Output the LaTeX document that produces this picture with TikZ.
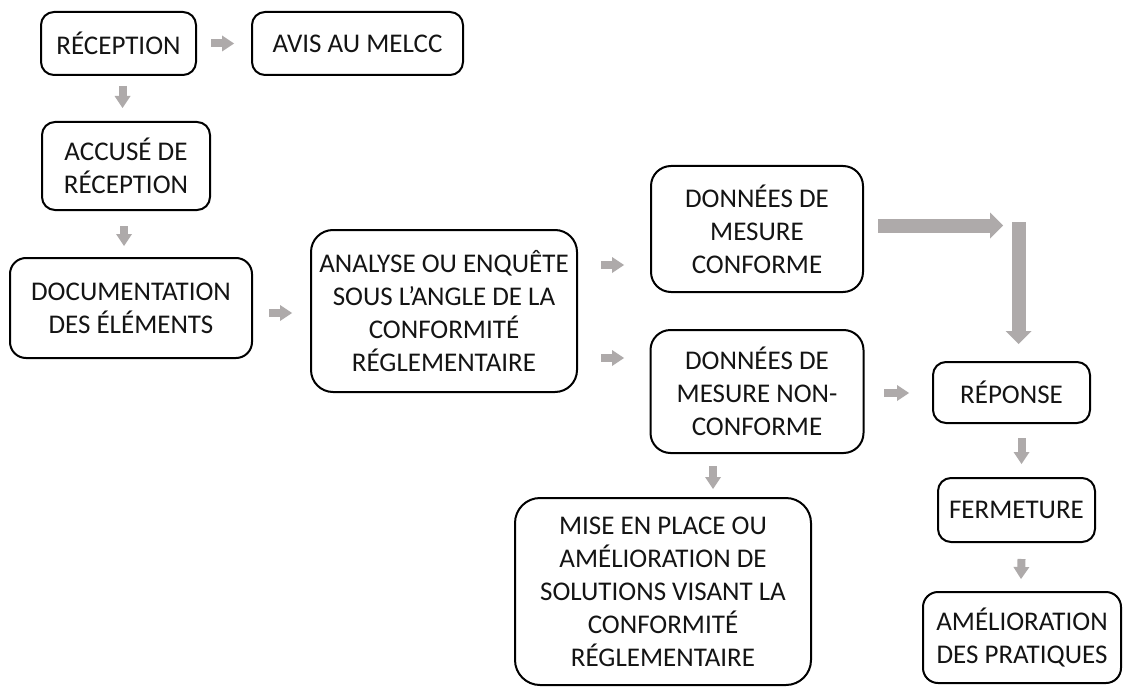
\documentclass[tikz,border=0pt]{standalone}
\usepackage{fontspec}
\setmainfont{Carlito}
\usetikzlibrary{arrows.meta,calc}
\definecolor{agray}{HTML}{AEAAAA}
\definecolor{txt}{HTML}{141414}
\begin{document}
\begin{tikzpicture}[x=1pt,y=-1pt,
  box/.style={draw=black, line width=2pt, fill=white, align=center, inner sep=0pt,
    text=txt, font=\fontsize{27}{33}\selectfont, rounded corners=13pt},
  sarrow/.style={draw=agray, line width=8pt, -{Triangle[length=12pt,width=16pt,line width=0pt]}},
  barrow/.style={draw=agray, line width=14pt, -{Triangle[length=13pt,width=26pt,line width=0pt]}}]
\useasboundingbox[fill=white] (0,0) rectangle (1123,687);

\node[box, minimum width=155pt, minimum height=63pt] (rec) at (118.5,43.5) {RÉCEPTION};
\node[box, minimum width=211pt, minimum height=63pt] (avis) at (357.5,43.5) {AVIS AU MELCC};
\node[box, minimum width=168pt, minimum height=88pt] (acc) at (126,166) {ACCUSÉ DE\\RÉCEPTION};
\node[box, minimum width=242pt, minimum height=100pt, rounded corners=16pt] (doc) at (131,308) {DOCUMENTATION\\DES ÉLÉMENTS};
\node[box, minimum width=266pt, minimum height=162pt, rounded corners=22pt] (ana) at (444,311) {ANALYSE OU ENQUÊTE\\SOUS L’ANGLE DE LA\\CONFORMITÉ\\RÉGLEMENTAIRE};
\node[box, minimum width=212pt, minimum height=126pt, rounded corners=20pt] (dc) at (757,229) {DONNÉES DE\\MESURE\\CONFORME};
\node[box, minimum width=213pt, minimum height=123pt, rounded corners=20pt] (dn) at (757,391.5) {DONNÉES DE\\MESURE NON-\\CONFORME};
\node[box, minimum width=296pt, minimum height=187pt, rounded corners=25pt] (mise) at (663,591.5) {MISE EN PLACE OU\\AMÉLIORATION DE\\SOLUTIONS VISANT LA\\CONFORMITÉ\\RÉGLEMENTAIRE};
\node[box, minimum width=157pt, minimum height=61pt] (rep) at (1011.5,392.5) {RÉPONSE};
\node[box, minimum width=157pt, minimum height=64pt] (fer) at (1016.5,510) {FERMETURE};
\node[box, minimum width=198pt, minimum height=91pt, rounded corners=15pt] (ame) at (1022,637.5) {AMÉLIORATION\\DES PRATIQUES};

\coordinate (hend) at (1003,225.5);
\coordinate (turn) at (1018.5,222);

\draw[sarrow] ($(rec.east)+(14,0)$) -- ($(avis.west)+(-17,0)$);
\draw[sarrow] ($(rec.south)+(4,10)$) -- ($(acc.north)+(-3.5,-13)$);
\draw[sarrow] ($(acc.south)+(-2,15)$) -- ($(doc.north)+(-7,-11)$);
\draw[sarrow] ($(doc.east)+(16,5)$) -- ($(ana.west)+(-18,2)$);
\draw[sarrow] ($(ana.east)+(23,-46)$) -- ($(dc.west)+(-26,36)$);
\draw[sarrow] ($(ana.east)+(23,47)$) -- ($(dn.west)+(-25.5,-33.5)$);
\draw[sarrow] ($(dn.south)+(-44,12)$) -- ($(mise.north)+(50,-8)$);
\draw[barrow] ($(dc.east)+(14,-3.5)$) -- (hend);
\draw[barrow] (turn) -- ($(rep.north)+(7,-17)$);
\draw[sarrow] ($(dn.east)+(19.5,1.5)$) -- ($(rep.west)+(-23,0.5)$);
\draw[sarrow] ($(rep.south)+(10,14)$) -- ($(fer.north)+(5,-13)$);
\draw[sarrow] ($(fer.south)+(5,16)$) -- ($(ame.north)+(-1,-12)$);
\end{tikzpicture}
\end{document}
